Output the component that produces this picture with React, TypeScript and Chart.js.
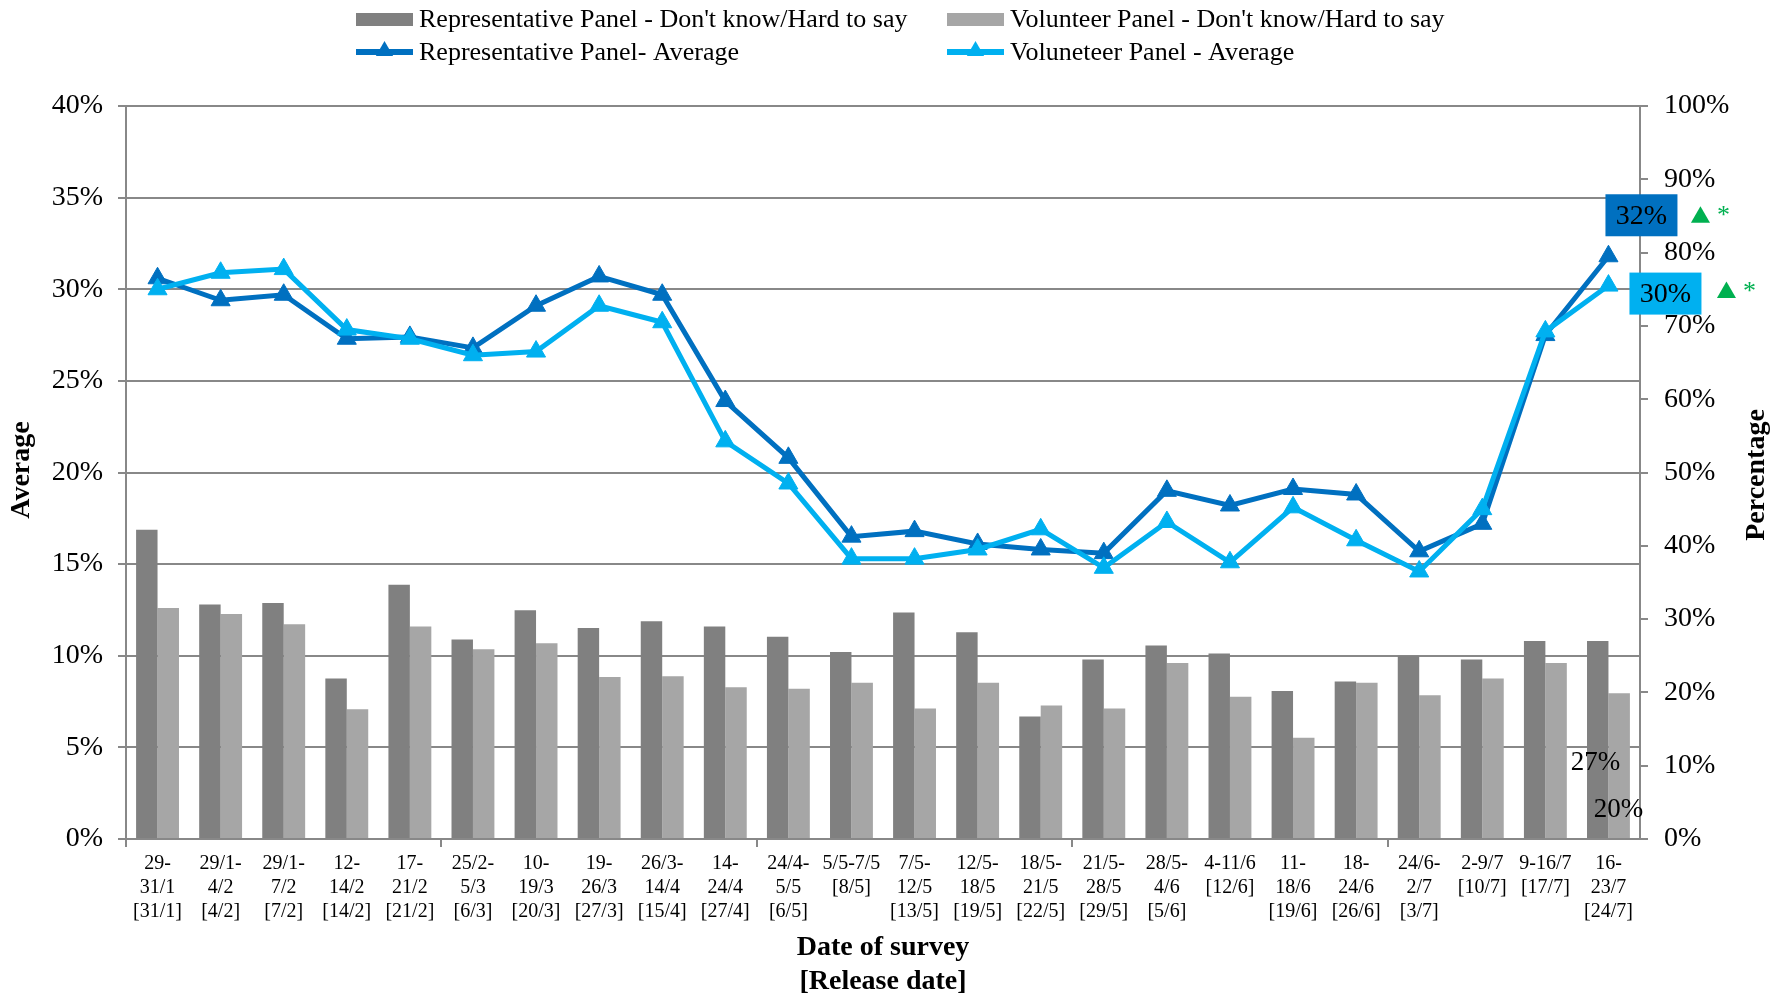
import React, { useEffect, useRef } from 'react';
import { Chart, registerables } from 'chart.js';

Chart.register(...registerables);

const categories: string[][] = [
  ['29-', '31/1', '[31/1]'],
  ['29/1-', '4/2', '[4/2]'],
  ['29/1-', '7/2', '[7/2]'],
  ['12-', '14/2', '[14/2]'],
  ['17-', '21/2', '[21/2]'],
  ['25/2-', '5/3', '[6/3]'],
  ['10-', '19/3', '[20/3]'],
  ['19-', '26/3', '[27/3]'],
  ['26/3-', '14/4', '[15/4]'],
  ['14-', '24/4', '[27/4]'],
  ['24/4-', '5/5', '[6/5]'],
  ['5/5-7/5', '[8/5]'],
  ['7/5-', '12/5', '[13/5]'],
  ['12/5-', '18/5', '[19/5]'],
  ['18/5-', '21/5', '[22/5]'],
  ['21/5-', '28/5', '[29/5]'],
  ['28/5-', '4/6', '[5/6]'],
  ['4-11/6', '[12/6]'],
  ['11-', '18/6', '[19/6]'],
  ['18-', '24/6', '[26/6]'],
  ['24/6-', '2/7', '[3/7]'],
  ['2-9/7', '[10/7]'],
  ['9-16/7', '[17/7]'],
  ['16-', '23/7', '[24/7]'],
];

// "Don't know / Hard to say" shares (right axis, %)
const repDontKnow = [42.2, 32.0, 32.2, 21.9, 34.7, 27.2, 31.2, 28.8, 29.7, 29.0, 27.6, 25.5, 30.9, 28.2, 16.7, 24.5, 26.4, 25.3, 20.2, 21.5, 25.0, 24.5, 27.0, 27.0];
const volDontKnow = [31.5, 30.7, 29.3, 17.7, 29.0, 25.9, 26.7, 22.1, 22.2, 20.7, 20.5, 21.3, 17.8, 21.3, 18.2, 17.8, 24.0, 19.4, 13.8, 21.3, 19.6, 21.9, 24.0, 19.9];

// Averages (left axis, %)
const repAverage = [30.6, 29.4, 29.7, 27.3, 27.4, 26.8, 29.1, 30.7, 29.7, 23.9, 20.8, 16.5, 16.8, 16.1, 15.8, 15.6, 19.0, 18.2, 19.1, 18.8, 15.7, 17.2, 27.5, 31.8];
const volAverage = [30.0, 30.9, 31.1, 27.8, 27.3, 26.4, 26.6, 29.1, 28.2, 21.7, 19.4, 15.3, 15.3, 15.8, 16.9, 14.8, 17.3, 15.1, 18.1, 16.3, 14.6, 18.0, 27.7, 30.2];

const leftTicks = { min: 0, max: 40, step: 5 };
const rightTicks = { min: 0, max: 100, step: 10 };

const seriesLabels = {
  repBar: "Representative Panel - Don't know/Hard to say",
  volBar: "Volunteer Panel - Don't know/Hard to say",
  repLine: 'Representative Panel- Average',
  volLine: 'Voluneteer Panel - Average',
};

const axisTitles = {
  left: 'Average',
  right: 'Percentage',
  x: ['Date of survey', '[Release date]'],
};

const FONT = '"Liberation Serif", "Times New Roman", Times, serif';
const GRID = '#888888';
const REP_BLUE = '#0070C0';
const VOL_BLUE = '#00B0F0';
const DARK_GRAY = '#808080';
const LIGHT_GRAY = '#A6A6A6';
const GREEN = '#00B050';

function triangle(ctx: CanvasRenderingContext2D, cx: number, cy: number, r: number, color: string) {
  ctx.beginPath();
  ctx.moveTo(cx, cy - r);
  ctx.lineTo(cx + r * 0.866, cy + r * 0.5);
  ctx.lineTo(cx - r * 0.866, cy + r * 0.5);
  ctx.closePath();
  ctx.fillStyle = color;
  ctx.fill();
}

const overlayPlugin = {
  id: 'overlay',
  afterDraw(chart: any) {
    const ctx: CanvasRenderingContext2D = chart.ctx;
    const ds = chart.data.datasets;
    ctx.save();

    // Legend (2 x 2 grid)
    const legendItems = [
      { d: ds[0], col: 0, row: 0 },
      { d: ds[1], col: 1, row: 0 },
      { d: ds[2], col: 0, row: 1 },
      { d: ds[3], col: 1, row: 1 },
    ];
    const colX = [356, 947];
    const rowY = [19, 52];
    ctx.font = `26px ${FONT}`;
    ctx.textBaseline = 'middle';
    ctx.textAlign = 'left';
    for (const it of legendItems) {
      const x = colX[it.col];
      const y = rowY[it.row];
      if (it.d.type === 'bar') {
        ctx.fillStyle = it.d.backgroundColor;
        ctx.fillRect(x, y - 6, 57, 13);
      } else {
        ctx.strokeStyle = it.d.borderColor;
        ctx.lineWidth = 6;
        ctx.beginPath();
        ctx.moveTo(x, y);
        ctx.lineTo(x + 57, y);
        ctx.stroke();
        triangle(ctx, x + 28.5, y - 1, 10, it.d.borderColor);
      }
      ctx.fillStyle = '#000';
      ctx.fillText(it.d.label, x + 63, y + 1);
    }

    // Axis titles
    ctx.font = `bold 28px ${FONT}`;
    ctx.fillStyle = '#000';
    ctx.textAlign = 'center';
    ctx.textBaseline = 'middle';
    ctx.save();
    ctx.translate(22, 470);
    ctx.rotate(-Math.PI / 2);
    ctx.fillText(axisTitles.left, 0, 0);
    ctx.restore();
    ctx.save();
    ctx.translate(1757, 475);
    ctx.rotate(-Math.PI / 2);
    ctx.fillText(axisTitles.right, 0, 0);
    ctx.restore();
    const xc = (chart.chartArea.left + chart.chartArea.right) / 2;
    ctx.fillText(axisTitles.x[0], xc, 948);
    ctx.fillText(axisTitles.x[1], xc, 982);

    // Data labels for the last survey
    const xs = chart.scales.x;
    const yl = chart.scales.y;
    const yr = chart.scales.y2;
    const last = categories.length - 1;
    const px = xs.getPixelForValue(last);

    const repY = yl.getPixelForValue(repAverage[last]);
    const volY = yl.getPixelForValue(volAverage[last]);

    ctx.font = `28px ${FONT}`;
    // rep box
    let bx = px + 33, by = repY - 41;
    ctx.fillStyle = REP_BLUE;
    ctx.fillRect(bx - 36, by - 21, 72, 42);
    ctx.fillStyle = '#000';
    ctx.fillText(Math.round(repAverage[last]) + '%', bx, by + 1);
    triangle(ctx, bx + 59, by + 2, 11, GREEN);
    ctx.fillStyle = GREEN;
    ctx.font = `26px ${FONT}`;
    ctx.textBaseline = 'alphabetic';
    ctx.fillText('*', bx + 82, by + 8);

    // vol box
    ctx.font = `28px ${FONT}`;
    ctx.textBaseline = 'middle';
    bx = px + 57; by = volY + 8;
    ctx.fillStyle = VOL_BLUE;
    ctx.fillRect(bx - 36, by - 21, 72, 42);
    ctx.fillStyle = '#000';
    ctx.fillText(Math.round(volAverage[last]) + '%', bx, by + 1);
    triangle(ctx, bx + 61, by - 1, 11, GREEN);
    ctx.fillStyle = GREEN;
    ctx.font = `26px ${FONT}`;
    ctx.textBaseline = 'alphabetic';
    ctx.fillText('*', bx + 84, by + 5);

    // bar labels
    ctx.font = `27px ${FONT}`;
    ctx.textBaseline = 'middle';
    ctx.fillStyle = '#000';
    const y0 = yr.getPixelForValue(0);
    ctx.fillText(Math.round(repDontKnow[last]) + '%', px - 13, y0 - 76);
    ctx.fillText(Math.round(volDontKnow[last]) + '%', px + 10, y0 - 29);

    ctx.restore();
  },
};

export default function App() {
  const ref = useRef<HTMLCanvasElement>(null);

  useEffect(() => {
    document.body.style.margin = '0';
    document.body.style.overflow = 'hidden';
    const canvas = ref.current!;
    const chart = new Chart(canvas, {
      type: 'bar',
      data: {
        labels: categories,
        datasets: [
          {
            type: 'bar',
            label: seriesLabels.repBar,
            data: repDontKnow,
            yAxisID: 'y2',
            backgroundColor: DARK_GRAY,
            borderWidth: 0,
            categoryPercentage: 0.68,
            barPercentage: 1.0,
            order: 2,
          },
          {
            type: 'bar',
            label: seriesLabels.volBar,
            data: volDontKnow,
            yAxisID: 'y2',
            backgroundColor: LIGHT_GRAY,
            borderWidth: 0,
            categoryPercentage: 0.68,
            barPercentage: 1.0,
            order: 3,
          },
          {
            type: 'line',
            label: seriesLabels.repLine,
            data: repAverage,
            yAxisID: 'y',
            borderColor: REP_BLUE,
            backgroundColor: REP_BLUE,
            borderWidth: 5,
            pointStyle: 'triangle',
            pointRadius: 11,
            pointBorderWidth: 1,
            pointBackgroundColor: REP_BLUE,
            pointBorderColor: REP_BLUE,
            tension: 0,
            order: 1,
          },
          {
            type: 'line',
            label: seriesLabels.volLine,
            data: volAverage,
            yAxisID: 'y',
            borderColor: VOL_BLUE,
            backgroundColor: VOL_BLUE,
            borderWidth: 5,
            pointStyle: 'triangle',
            pointRadius: 11,
            pointBorderWidth: 1,
            pointBackgroundColor: VOL_BLUE,
            pointBorderColor: VOL_BLUE,
            tension: 0,
            order: 0,
          },
        ] as any,
      },
      options: {
        animation: false,
        responsive: true,
        maintainAspectRatio: false,
        layout: { padding: { top: 106, left: 0, right: 0, bottom: 0 } },
        plugins: {
          legend: { display: false },
          tooltip: { enabled: false },
        },
        scales: {
          x: {
            type: 'category',
            offset: true,
            grid: {
              offset: true,
              drawOnChartArea: false,
              drawTicks: true,
              tickLength: 8,
              lineWidth: 2,
              color: (c: any) => (c.index % 5 === 0 ? GRID : 'rgba(0,0,0,0)'),
            },
            border: { display: true, color: GRID, width: 2 },
            ticks: {
              autoSkip: false,
              maxRotation: 0,
              minRotation: 0,
              padding: 5,
              color: '#000',
              font: { family: FONT, size: 20, lineHeight: 1.2 },
            },
            afterFit: (s: any) => {
              s.height = 160;
            },
          },
          y: {
            position: 'left',
            min: leftTicks.min,
            max: leftTicks.max,
            ticks: {
              stepSize: leftTicks.step,
              callback: (v: any) => v + '%',
              color: '#000',
              padding: 15,
              font: { family: FONT, size: 28 },
            },
            grid: { color: GRID, lineWidth: 2, tickLength: 8 },
            border: { display: true, color: GRID, width: 2 },
            afterFit: (s: any) => {
              s.width = 126;
            },
          },
          y2: {
            position: 'right',
            min: rightTicks.min,
            max: rightTicks.max,
            ticks: {
              stepSize: rightTicks.step,
              callback: (v: any) => v + '%',
              color: '#000',
              padding: 16,
              font: { family: FONT, size: 28 },
            },
            grid: { drawOnChartArea: false, color: GRID, lineWidth: 2, tickLength: 8 },
            border: { display: true, color: GRID, width: 2 },
            afterFit: (s: any) => {
              s.width = 144;
            },
          },
        },
      } as any,
      plugins: [overlayPlugin],
    });
    return () => chart.destroy();
  }, []);

  return (
    <div style={{ position: 'relative', width: 1784, height: 999 }}>
      <canvas ref={ref} />
    </div>
  );
}
